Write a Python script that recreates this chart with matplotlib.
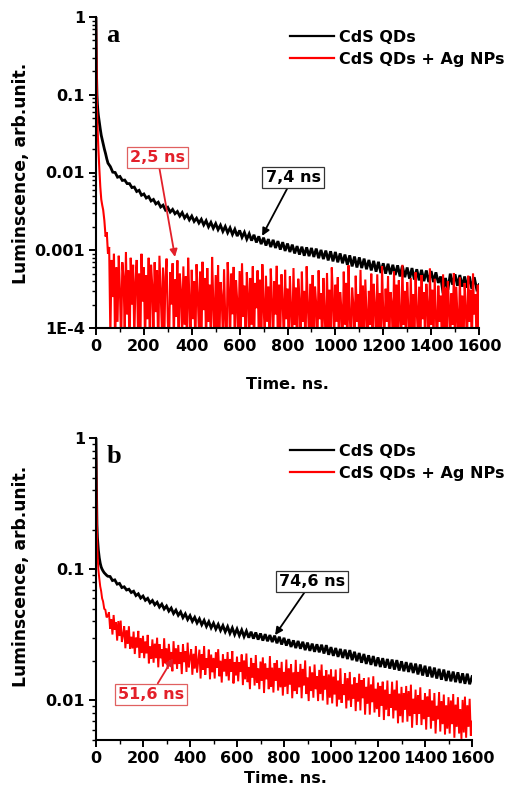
import numpy as np
import matplotlib
matplotlib.use("Agg")
import matplotlib.pyplot as plt
from matplotlib.ticker import LogLocator, NullFormatter, MultipleLocator

# ---------------- data ----------------
t_early = [0, 2, 4, 6, 8, 10, 14, 18, 22, 26, 30, 35, 40, 45, 50]
time_ns = np.concatenate([t_early, np.arange(60, 1601, 10)])        # 10 ns channels
time_ns_fine = np.concatenate([t_early, np.arange(55, 1601, 5)])    # 5 ns channels

# panel a (units of 1e-4)
a_cds_early = [10000, 2000, 1000, 750, 620, 540, 440, 360, 300, 265, 235, 200, 175, 150, 132]
a_cds = [119, 101, 100, 87, 89, 79, 80, 72, 72, 64,
         65, 57, 59, 51, 53, 47, 49, 43, 45, 39.5,
         41.5, 36, 38, 33, 35.5, 31, 33.5, 29.5, 31.5, 27.5,
         30.5, 26, 28.5, 24.6, 27.5, 23.5, 25.8, 22.4, 25, 21.2,
         24, 20, 22.8, 19.2, 22, 18.4, 21, 17.5, 20.2, 16.8,
         19.4, 16, 18.6, 15.2, 18, 14.7, 17, 13.9, 16.3, 13.3,
         15.8, 12.6, 15.1, 12, 14.5, 11.5, 13.9, 11, 13.6, 10.7,
         13.1, 10.2, 12.7, 9.8, 12.2, 9.5, 11.8, 9.1, 11.3, 8.8,
         11.1, 8.5, 10.9, 8.4, 10.7, 8.2, 10.5, 7.9, 10.1, 7.7,
         9.9, 7.4, 9.7, 7.2, 9.5, 7.0, 9.1, 6.8, 8.8, 6.5,
         8.6, 6.2, 8.3, 6.0, 8.1, 5.9, 7.8, 5.7, 7.5, 5.5,
         7.3, 5.3, 7.1, 5.1, 6.8, 5.0, 6.7, 4.9, 6.5, 4.8,
         6.4, 4.6, 6.3, 4.5, 6.0, 4.3, 5.9, 4.2, 5.7, 4.1,
         5.6, 4.0, 5.5, 3.9, 5.4, 3.9, 5.2, 3.8, 4.6, 2.8,
         4.4, 3.1, 5.0, 3.6, 4.9, 3.5, 4.8, 3.4, 4.6, 3.3,
         4.6, 3.2, 4.5, 3.2, 3.6]
a_ag_early = [10000, 2500, 700, 400, 280, 200, 110, 65, 45, 38, 33, 24, 15, 17, 9]
a_ag = [11, 0.8, 7.5, 2.5, 9, 0.5, 6, 1.2, 8.5, 3,
        0.6, 7, 4.5, 0.9, 9.5, 1.5, 5.5, 0.4, 8, 2,
        6.5, 0.7, 4, 7.5, 1, 5, 0.5, 9, 2.2, 6,
        0.6, 4.8, 1.3, 8, 0.5, 6.5, 3.5, 0.8, 7, 1.6,
        5.5, 0.4, 8.5, 2.8, 1, 6, 0.6, 4.5, 7.8, 1.2,
        0.5, 5.2, 2, 6.8, 0.7, 4.2, 1.4, 7.4, 0.4, 5,
        3, 0.8, 6.2, 1.1, 4.6, 0.5, 8, 2.4, 0.6, 5.6,
        1.3, 4, 0.5, 6.6, 2.6, 0.9, 5.3, 0.4, 7.1, 1.7,
        4.4, 0.6, 5.9, 1.2, 3.6, 0.5, 8.2, 2.1, 0.7, 4.8,
        1, 6.4, 0.5, 3.9, 2.5, 0.8, 5.7, 1.3, 0.4, 7,
        3.3, 0.6, 5, 1.5, 6.1, 0.5, 4.1, 2.2, 0.7, 5.4,
        0.9, 6.8, 1.4, 3.5, 0.5, 5.2, 2.7, 0.6, 4.4, 1.1,
        6.2, 0.5, 3.8, 1.8, 5.5, 0.7, 4.2, 0.4, 6.6, 2,
        0.8, 4.7, 1.2, 3.4, 0.5, 5.8, 2.3, 0.6, 4, 1.5,
        6.3, 0.5, 3.6, 0.9, 4.9, 2.1, 0.6, 5.6, 1.3, 3.2,
        0.5, 4.6, 1.7, 0.7, 5.9, 1.1, 3.3, 0.4, 4.3, 2.2,
        0.6, 5.3, 1.2, 3, 0.5, 6.2, 1.9, 0.8, 3.7, 1,
        4.8, 0.5, 3.4, 2, 0.6, 5.5, 1.3, 2.8, 0.5, 4.4,
        1.5, 0.7, 5.1, 1, 3.1, 0.4, 6, 2.3, 0.7, 3.6,
        1.2, 4.5, 0.5, 2.9, 1.8, 0.6, 5.3, 1.1, 3.8, 0.5,
        6.4, 1.4, 0.7, 3.3, 2, 0.5, 4.7, 1.2, 2.7, 0.6,
        5.6, 0.9, 3.5, 0.5, 4.2, 1.6, 0.6, 3, 1.1, 5,
        0.5, 3.7, 1.9, 0.7, 4.9, 1, 2.8, 0.4, 6.2, 1.5,
        0.8, 3.2, 1.2, 4.6, 0.5, 2.9, 2.1, 0.6, 5.4, 1,
        3.6, 0.5, 4.1, 1.4, 0.7, 6.5, 1.1, 3, 0.5, 3.9,
        1.7, 0.6, 4.4, 1, 2.7, 0.5, 5.2, 1.6, 0.8, 3.4,
        0.5, 4.8, 1.3, 2.9, 0.6, 3.7, 2, 0.5, 5.8, 1.1,
        3.1, 0.7, 4.3, 1.5, 0.5, 3.5, 1.2, 2.6, 0.6, 4.9,
        1, 3.3, 0.5, 4, 1.8, 0.7, 2.8, 1.1, 5.1, 0.5,
        3.4, 1.4, 0.6, 4.5, 1, 2.6, 0.5, 3.8, 1.7, 0.6,
        4.7, 1.2, 3.1, 0.5, 5, 1.5, 2.7, 0.6, 3.6, 0.3]

# panel b (units of 1e-3)
b_cds_early = [1000, 420, 220, 175, 155, 140, 122, 111, 104, 100, 97, 94, 92, 90, 88.5]
b_cds = [88, 82, 83, 77, 78, 72.5, 73.5, 69.5, 70.5, 66.5,
         68, 63, 65, 60.3, 62.5, 58, 60, 55.5, 57.8, 53.6,
         56, 51.5, 54.2, 49.8, 52.4, 48, 50.6, 46, 48.8, 44.6,
         47.3, 42.8, 45.7, 41.4, 44.3, 40.1, 43, 39, 41.9, 37.8,
         40.8, 36.7, 39.8, 35.8, 38.8, 35, 38, 34.2, 37.2, 33.4,
         36.5, 32.5, 35.7, 31.8, 35, 31.3, 34.4, 30.7, 33.8, 30.1,
         33.4, 29.6, 33, 29.1, 32.4, 28.6, 32, 28.3, 31.5, 27.9,
         31.2, 27.3, 30.6, 26.7, 30, 26.2, 29.3, 25.6, 28.7, 25.1,
         28.4, 24.8, 28, 24.2, 27.6, 23.9, 27.1, 23.5, 26.8, 23.3,
         26.6, 22.8, 26.4, 22.3, 25.5, 21.9, 25.1, 21.5, 24.7, 21.1,
         24.4, 20.7, 24.2, 20.3, 23.5, 19.9, 23, 19.4, 22.6, 19,
         22.1, 18.7, 21.8, 18.3, 21.3, 18, 21, 17.8, 20.7, 17.5,
         20.5, 17.2, 20.3, 16.9, 19.9, 16.7, 19.6, 16.5, 19.3, 16.2,
         19.1, 15.8, 18.8, 15.5, 18.4, 15.2, 18.1, 15, 17.8, 14.7,
         17.4, 14.4, 17.2, 14.1, 16.8, 14, 16.6, 13.8, 16.4, 13.6,
         16.1, 13.4, 16, 13.3, 15.2]
b_ag_early = [1000, 400, 200, 140, 115, 100, 85, 74, 68, 60, 57, 50, 49, 43, 44]
b_ag = [47, 35.3, 41.5, 31.8, 44.8, 34.6, 39.4, 28.6, 40.3, 31,
        40.6, 27.9, 31.7, 36.7, 25, 34.3, 27, 36.8, 24.7, 30.6,
        24.9, 33.5, 22.6, 30.1, 25.4, 33.9, 21.1, 29.9, 23, 31.1,
        21, 28.2, 22.9, 31.6, 19.2, 25.9, 20.8, 29.2, 19.4, 27.1,
        21, 30.1, 17.9, 26.9, 21, 24.5, 18.2, 29.8, 19.2, 25,
        17.4, 27, 20.2, 23.4, 16.7, 28.3, 18.9, 25, 17.4, 26.5,
        19, 23.3, 15.9, 26.8, 19.6, 23.7, 16.5, 27.6, 17.9, 21.3,
        24.5, 15.7, 22.7, 17.5, 26, 16.3, 19.9, 24.4, 14.7, 22.5,
        17.2, 26, 15.7, 21, 17.7, 24.4, 14.5, 22.4, 16.4, 21.1,
        14.7, 23.2, 17.7, 24.6, 15.3, 20.1, 13.7, 22.4, 16.6, 20.7,
        15.3, 23.4, 14.2, 20.7, 16.6, 23.8, 13.5, 19.5, 15.5, 21.6,
        14, 19.6, 16.5, 22.4, 13.1, 20.2, 14.5, 22.8, 13.8, 18,
        12.2, 21.1, 14.9, 19.2, 13, 22.2, 13.6, 17.6, 12.2, 19.8,
        14.1, 21.3, 11.4, 19.1, 14.5, 17.7, 12.2, 21.8, 12.7, 17.8,
        11.5, 19.3, 14.1, 20.3, 11.9, 17.7, 12.6, 19.7, 10.9, 16.5,
        12.8, 20.5, 11.2, 17.5, 13.2, 18.9, 10.4, 16.4, 11.8, 20.4,
        11.2, 16.5, 12.6, 19, 10.4, 17.4, 13, 20.2, 11.2, 15,
        9.9, 18.2, 11.8, 16.4, 10.5, 18.8, 12.2, 15.3, 9.9, 17.1,
        11.2, 18.8, 10, 15.4, 12.1, 17, 9.3, 15.8, 10.5, 17.3,
        9.5, 15.2, 11.1, 17.2, 9, 14.2, 10.2, 17.6, 9.6, 13.3,
        11, 16.1, 8.7, 14.8, 10, 16.5, 9, 13.2, 10.3, 15,
        8.3, 13.6, 9.8, 16, 8.4, 14.3, 10.4, 14.8, 7.8, 12.7,
        9.5, 15, 7.8, 13.2, 9.7, 15.3, 8.1, 12.3, 8.6, 13.7,
        7.5, 12.9, 9.1, 13.9, 7.1, 12.1, 8.5, 14.2, 7.6, 11.2,
        8.8, 13.9, 7.3, 12.1, 8.4, 14.2, 6.7, 11.3, 7.6, 12.7,
        6.8, 11.4, 8.5, 12.9, 6.9, 11.8, 7.6, 13.2, 6.2, 10.3,
        7.9, 12.1, 6.5, 11, 7.9, 12.6, 6.5, 10.1, 7.2, 11.4,
        6, 10.7, 7.5, 12.2, 6.1, 10, 7, 11.4, 5.6, 9.1,
        7.2, 11.6, 5.8, 9.9, 6.6, 11.1, 5.5, 9.2, 6.1, 10.6,
        5.6, 10, 6.6, 11.2, 5.2, 9.3, 6.3, 10.6, 5.6, 8.6,
        5.1, 10.1, 5.7, 10.7, 5.2, 9.2, 6.3, 10.3, 5.4, 6.9]

lum_a_cds = np.array(a_cds_early + a_cds) * 1e-4
lum_a_ag = np.array(a_ag_early + a_ag) * 1e-4
lum_b_cds = np.array(b_cds_early + b_cds) * 1e-3
lum_b_ag = np.array(b_ag_early + b_ag) * 1e-3

series_labels = ["CdS QDs", "CdS QDs + Ag NPs"]
x_ticks = [0, 200, 400, 600, 800, 1000, 1200, 1400, 1600]
a_yticks = [1e-4, 1e-3, 1e-2, 1e-1, 1]
a_yticklabels = ["1E-4", "0.001", "0.01", "0.1", "1"]
b_yticks = [1e-2, 1e-1, 1]
b_yticklabels = ["0.01", "0.1", "1"]

# ---------------- style ----------------
plt.rcParams["font.family"] = ["DejaVu Sans"]
plt.rcParams["font.weight"] = "bold"
RED = "#ff0000"
ANN_RED = "#e3202a"
FS = 11.5

W, H = 508, 798
fig = plt.figure(figsize=(W / 100, H / 100), dpi=100)


def make_axes(left, right, top, bottom):
    return fig.add_axes([left / W, 1 - bottom / H, (right - left) / W, (bottom - top) / H])


def style(ax, ylim, yticks, yticklabels):
    ax.set_yscale("log")
    ax.set_xlim(0, 1600)
    ax.set_ylim(*ylim)
    ax.set_xticks(x_ticks)
    ax.set_xticklabels([str(v) for v in x_ticks])
    ax.xaxis.set_minor_locator(MultipleLocator(100))
    ax.set_yticks(yticks)
    ax.set_yticklabels(yticklabels)
    ax.yaxis.set_minor_locator(LogLocator(base=10, subs=range(2, 10)))
    ax.yaxis.set_minor_formatter(NullFormatter())
    for s in ["top", "right"]:
        ax.spines[s].set_visible(False)
    for s in ["left", "bottom"]:
        ax.spines[s].set_linewidth(1.5)
        ax.spines[s].set_zorder(5)
    ax.tick_params(which="major", direction="out", length=5, width=1.4,
                   labelsize=FS, pad=3)
    ax.tick_params(which="minor", direction="out", length=3, width=1.0)
    for lab in ax.get_xticklabels() + ax.get_yticklabels():
        lab.set_fontweight("bold")


def box_note(ax, text, xy, xytext, color, ec):
    ax.annotate(text, xy=xy, xytext=xytext, ha="center", va="center",
                fontsize=FS, fontweight="bold", color=color, zorder=6,
                bbox=dict(boxstyle="square,pad=0.2", fc="white", ec=ec, lw=0.9),
                arrowprops=dict(arrowstyle="-|>", color=color, lw=1.3,
                                mutation_scale=11, shrinkA=0, shrinkB=0))


def add_legend(ax, top_px):
    leg = ax.legend(loc="upper left", bbox_to_anchor=(290 / W, 1 - top_px / H),
                    bbox_transform=fig.transFigure, frameon=False, borderpad=0,
                    borderaxespad=0, handlelength=2.75, handletextpad=0.3,
                    labelspacing=0.42, prop=dict(weight="bold", size=FS))
    for ln in leg.get_lines():
        ln.set_linewidth(1.6)


# ---------------- panel a ----------------
ax1 = make_axes(96, 479, 17, 328)
ax1.plot(time_ns, lum_a_cds, color="black", lw=2.0, label=series_labels[0],
         solid_joinstyle="miter")
ax1.plot(time_ns_fine, lum_a_ag, color=RED, lw=1.5, label=series_labels[1],
         solid_joinstyle="miter")
style(ax1, (1e-4, 1.0), a_yticks, a_yticklabels)
ax1.set_xlabel("Time. ns.", fontsize=FS, fontweight="bold")
ax1.xaxis.set_label_coords(0.499, -0.158)
ax1.set_ylabel("Luminscence, arb.unit.", fontsize=12.3, fontweight="bold")
ax1.yaxis.set_label_coords(-0.172, 0.498)
ax1.text(0.044, 0.939, "a", transform=ax1.transAxes, family="Liberation Serif",
         fontweight="bold", fontsize=19, ha="center", va="center")
add_legend(ax1, 30)
box_note(ax1, "2,5 ns", (330, 8.2e-4), (257, 0.0156), ANN_RED, "#e06060")
box_note(ax1, "7,4 ns", (694, 1.53e-3), (823, 8.6e-3), "black", "#333333")

# ---------------- panel b ----------------
ax2 = make_axes(96, 472, 438, 740)
ax2.plot(time_ns, lum_b_cds, color="black", lw=2.0, label=series_labels[0],
         solid_joinstyle="miter")
ax2.plot(time_ns_fine, lum_b_ag, color=RED, lw=1.4, label=series_labels[1],
         solid_joinstyle="miter")
style(ax2, (0.005, 1.0), b_yticks, b_yticklabels)
ax2.set_xlabel("Time. ns.", fontsize=FS, fontweight="bold")
ax2.xaxis.set_label_coords(0.505, -0.103)
ax2.set_ylabel("Luminscence, arb.unit.", fontsize=12.3, fontweight="bold")
ax2.yaxis.set_label_coords(-0.176, 0.543)
ax2.text(0.047, 0.94, "b", transform=ax2.transAxes, family="Liberation Serif",
         fontweight="bold", fontsize=19, ha="center", va="center")
add_legend(ax2, 444)
box_note(ax2, "74,6 ns", (762, 0.0315), (919, 0.0806), "black", "#333333")
box_note(ax2, "51,6 ns", (328, 0.021), (234, 0.0111), ANN_RED, "#e06060")

fig.savefig("out.png", dpi=100)
